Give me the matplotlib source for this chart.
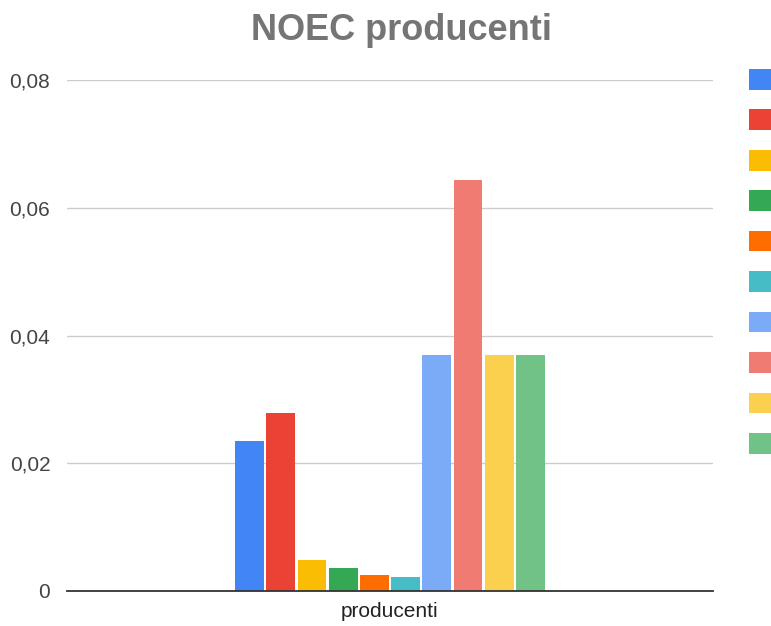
import matplotlib
matplotlib.use("Agg")
import matplotlib.pyplot as plt
from matplotlib.patches import Patch
from matplotlib.ticker import FixedLocator, FuncFormatter

plt.rcParams['font.family'] = ['Liberation Sans', 'DejaVu Sans']

# Data
category = "producenti"
series_values = [0.0235, 0.0279, 0.0048, 0.0036, 0.0025, 0.0022,
                 0.0370, 0.0643, 0.0370, 0.0370]
series_colors = ["#4285F4", "#EA4335", "#FBBC04", "#34A853", "#FF6D01",
                 "#46BDC6", "#7BAAF7", "#F07B72", "#FCD04F", "#71C287"]
y_ticks = [0, 0.02, 0.04, 0.06, 0.08]
title = "NOEC producenti"

W, H = 771, 626
fig = plt.figure(figsize=(W / 100, H / 100), dpi=100)
ax = fig.add_axes([67 / W, 1 - 591 / H, (713 - 67) / W, (591 - 80) / H])

n = len(series_values)
group_width = 0.483
pitch = group_width / n
bar_w = pitch * 0.92
for i, (v, c) in enumerate(zip(series_values, series_colors)):
    x = -group_width / 2 + pitch * (i + 0.5)
    ax.bar(x, v, width=bar_w, color=c, zorder=3, linewidth=0)

ax.set_xlim(-0.5, 0.5)
ax.set_ylim(0, 0.08)
ax.set_xticks([0])
ax.set_xticklabels([category], fontsize=15, color="#222222")
ax.yaxis.set_major_locator(FixedLocator(y_ticks))
ax.yaxis.set_major_formatter(FuncFormatter(
    lambda v, p: "0" if v == 0 else f"{v:.2f}".replace(".", ",")))
ax.tick_params(axis='y', length=0, pad=12, labelsize=15, labelcolor="#444444")
ax.tick_params(axis='x', length=0, pad=8)
ax.grid(axis='y', color="#cccccc", linewidth=1, zorder=0)
for s in ("top", "right", "left"):
    ax.spines[s].set_visible(False)
ax.spines["bottom"].set_color("#333333")
ax.spines["bottom"].set_linewidth(1.3)
ax.spines["bottom"].set_zorder(4)

fig.text(401 / W, 1 - 30 / H, title, ha="center", va="center",
         fontsize=26, fontweight="bold", color="#757575")

handles = [Patch(facecolor=c, edgecolor="none") for c in series_colors]
leg = fig.legend(handles, [""] * n, loc="upper left",
                 bbox_to_anchor=(749 / W, 1 - 69 / H),
                 frameon=False, fontsize=16, handlelength=1.0,
                 handleheight=1.05, labelspacing=0.79, borderpad=0,
                 borderaxespad=0, handletextpad=0.3)

fig.savefig("out.png", dpi=100)
